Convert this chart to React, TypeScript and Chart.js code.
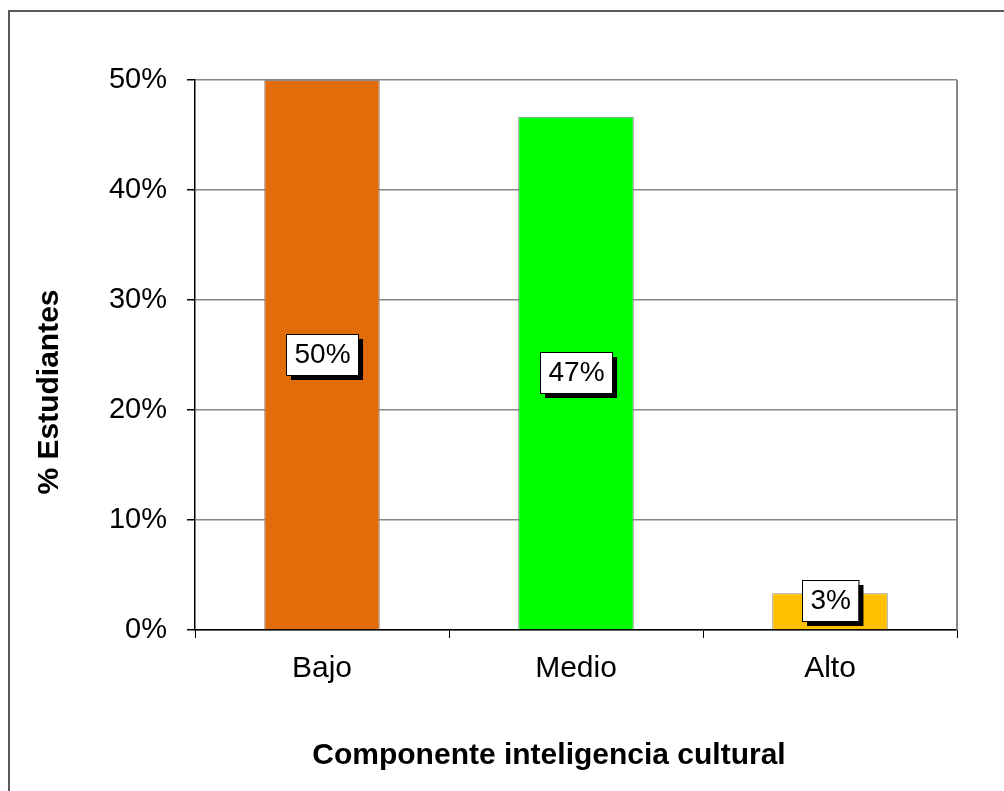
import React, { useEffect, useRef } from "react";
import { Chart, registerables } from "chart.js";

Chart.register(...registerables);

const categories = ["Bajo", "Medio", "Alto"];
const values = [50, 46.67, 3.33];
const barColors = ["#E36C0A", "#00FF00", "#FFC000"];
const yTicksMax = 50;
const yStep = 10;
const xTitle = "Componente inteligencia cultural";
const yTitle = "% Estudiantes";

const FONT = "'Liberation Sans', Arial, sans-serif";

const decorPlugin = {
  id: "decor",
  beforeDraw(chart: any) {
    const ctx = chart.ctx;
    ctx.save();
    ctx.fillStyle = "#ffffff";
    ctx.fillRect(0, 0, chart.width, chart.height);
    ctx.strokeStyle = "#5a5a5a";
    ctx.lineWidth = 2;
    ctx.strokeRect(9, 11, chart.width + 20, chart.height + 20);
    ctx.restore();
  },
  beforeDatasetsDraw(chart: any) {
    const { ctx, chartArea } = chart;
    ctx.save();
    ctx.strokeStyle = "#878787";
    ctx.lineWidth = 2;
    ctx.beginPath();
    ctx.moveTo(chartArea.right, chartArea.top);
    ctx.lineTo(chartArea.right, chartArea.bottom);
    ctx.stroke();
    ctx.restore();
  },
  afterDatasetsDraw(chart: any) {
    const { ctx, chartArea } = chart;
    const meta = chart.getDatasetMeta(0);
    ctx.save();
    ctx.font = `28px ${FONT}`;
    ctx.textAlign = "center";
    ctx.textBaseline = "middle";
    meta.data.forEach((bar: any, i: number) => {
      const txt = Math.round(values[i]) + "%";
      const tw = ctx.measureText(txt).width;
      const w = tw + 16;
      const h = 41;
      let cy = (bar.y + bar.base) / 2;
      if (cy + h / 2 > bar.base - 8) cy = bar.base - 8 - h / 2;
      const x0 = Math.round(bar.x - w / 2);
      const y0 = Math.round(cy - h / 2);
      ctx.fillStyle = "#000";
      ctx.fillRect(x0 + 5, y0 + 5, w, h);
      ctx.fillStyle = "#fff";
      ctx.fillRect(x0, y0, w, h);
      ctx.strokeStyle = "#000";
      ctx.lineWidth = 1;
      ctx.strokeRect(x0 + 0.5, y0 + 0.5, w, h);
      ctx.fillStyle = "#000";
      ctx.fillText(txt, x0 + w / 2 + 0.5, y0 + h / 2 + 1);
    });
    // axis titles
    ctx.font = `bold 30px ${FONT}`;
    ctx.textAlign = "center";
    ctx.textBaseline = "alphabetic";
    const cx = (chartArea.left + chartArea.right) / 2 - 27;
    ctx.fillText(xTitle, cx, chartArea.bottom + 134);
    const cyT = (chartArea.top + chartArea.bottom) / 2 + 37;
    ctx.translate(58, cyT);
    ctx.rotate(-Math.PI / 2);
    ctx.fillText(yTitle, 0, 0);
    ctx.restore();
  },
};

export default function App() {
  const ref = useRef<HTMLCanvasElement>(null);
  useEffect(() => {
    if (!ref.current) return;
    const chart = new Chart(ref.current, {
      type: "bar",
      data: {
        labels: categories,
        datasets: [
          {
            data: values,
            backgroundColor: barColors,
            borderColor: "#8c8c8c",
            borderWidth: 1,
            categoryPercentage: 1,
            barPercentage: 0.455,
          },
        ],
      },
      options: {
        responsive: false,
        animation: false,
        devicePixelRatio: 1,
        layout: { padding: { left: 0, right: 47, top: 80, bottom: 0 } },
        plugins: {
          legend: { display: false },
          tooltip: { enabled: false },
          title: { display: false },
        },
        scales: {
          x: {
            afterFit: (s: any) => {
              s.height = 161;
            },
            grid: {
              display: true,
              drawOnChartArea: false,
              drawTicks: true,
              tickLength: 8,
              tickColor: "#000",
              offset: true,
            },
            border: { display: true, color: "#000", width: 1.5 },
            ticks: {
              color: "#000",
              font: { family: FONT, size: 30 },
              padding: 13,
            },
          },
          y: {
            min: 0,
            max: yTicksMax,
            afterFit: (s: any) => {
              s.width = 195;
            },
            grid: {
              color: "#878787",
              lineWidth: 1.5,
              tickColor: "#000",
              tickLength: 8,
              drawTicks: true,
            },
            border: { display: true, color: "#000", width: 1.5 },
            ticks: {
              stepSize: yStep,
              color: "#000",
              padding: 20,
              font: { family: FONT, size: 29 },
              callback: (v: any) => v + "%",
            },
          },
        },
      },
      plugins: [decorPlugin],
    });
    return () => chart.destroy();
  }, []);
  return (
    <div style={{ position: "absolute", left: 0, top: 0, width: 1004, height: 791 }}>
      <canvas ref={ref} width={1004} height={791} style={{ display: "block" }} />
    </div>
  );
}
